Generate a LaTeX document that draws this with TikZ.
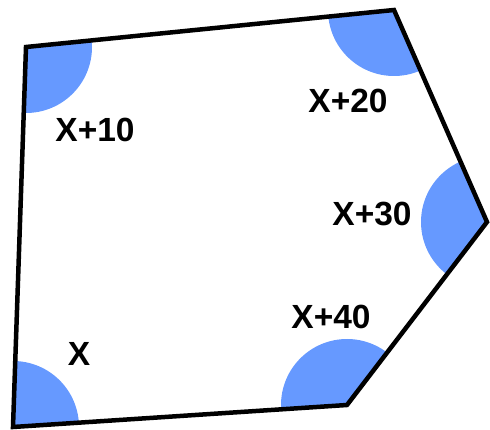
\documentclass[tikz,border=0pt]{standalone}
\usepackage{fontspec}
\setmainfont{Liberation Sans}
\definecolor{angblue}{RGB}{102,153,255}
\begin{document}
\begin{tikzpicture}[x=1pt,y=-1pt,
  lab/.style={font=\fontsize{33.5}{38}\selectfont\bfseries, inner sep=0pt, anchor=center},
  edge/.style={line width=4.5pt, line join=miter}]
\useasboundingbox (0,0) rectangle (490,430);
\coordinate (A) at (13,427);
\coordinate (B) at (26,47);
\coordinate (C) at (394,10);
\coordinate (D) at (487,222);
\coordinate (E) at (347,405);
\begin{scope}
  \clip (A) -- (B) -- (C) -- (D) -- (E) -- cycle;
  \foreach \p in {A,B,C,D,E} { \fill[angblue] (\p) circle (66); }
\end{scope}
\draw[edge] (A) -- (B) -- (C) -- (D) -- (E) -- cycle;
\node[lab] (l0) at (79,354) {X};
\node[lab] (l10) at (95,130) {X+10};
\node[lab] (l20) at (348,101) {X+20};
\node[lab] (l30) at (372,214) {X+30};
\node[lab] (l40) at (331,317) {X+40};
\end{tikzpicture}
\end{document}
